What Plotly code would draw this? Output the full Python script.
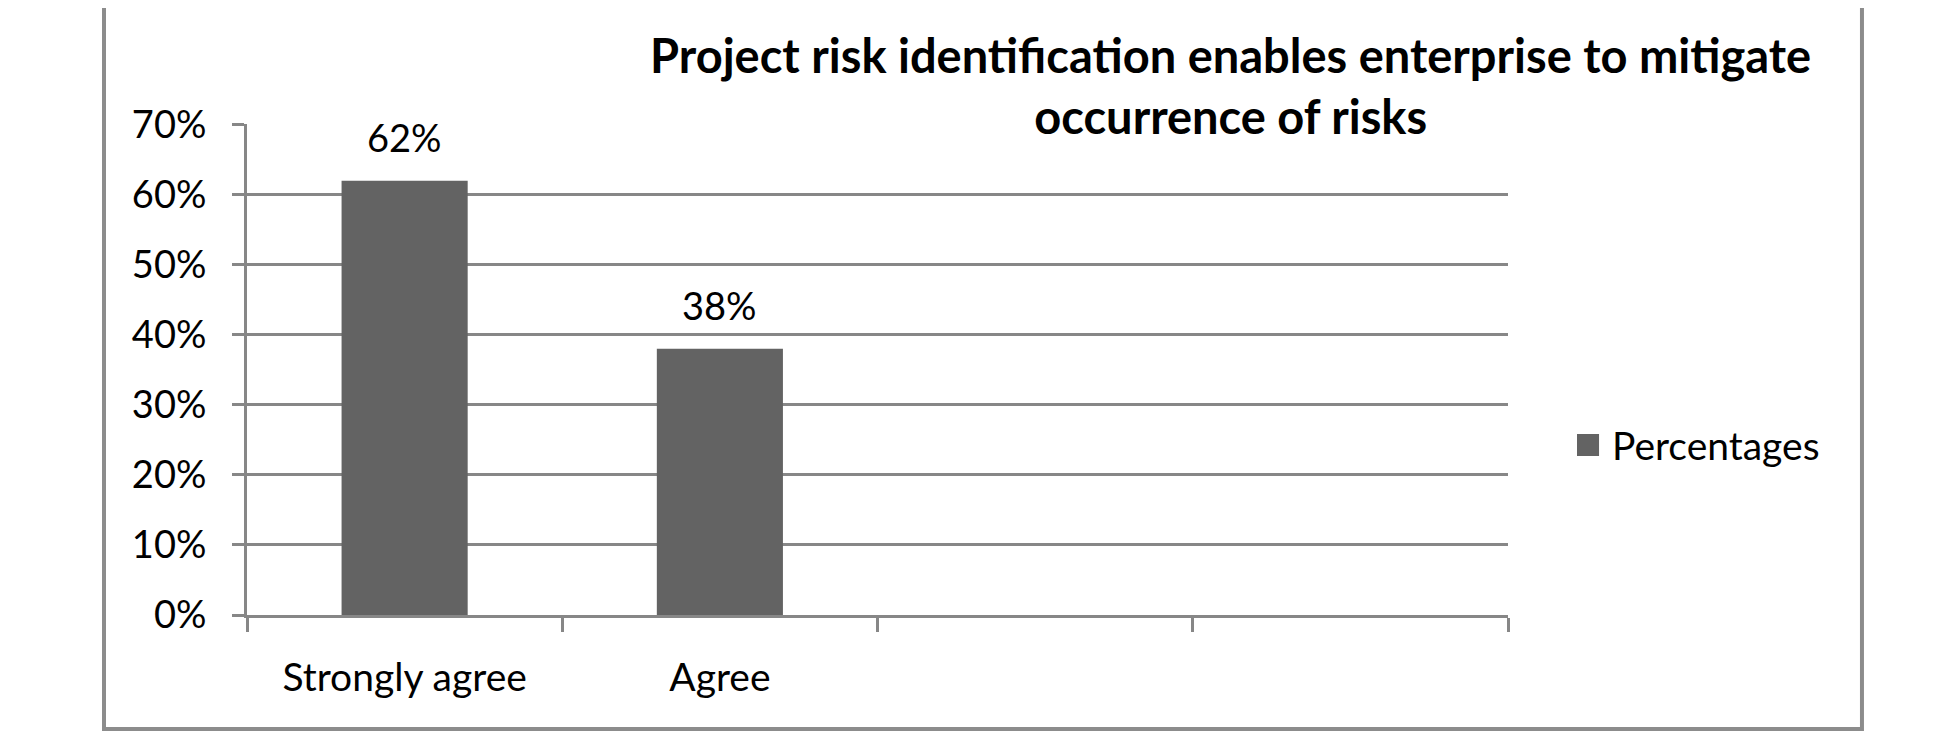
import plotly.graph_objects as go

# survey answers (two empty slots kept as in the original chart)
categories = ["Strongly agree", "Agree", " ", "  "]
percentages = [62, 38, None, None]
series_name = "Percentages"
title_text = "Project risk identification enables enterprise to mitigate<br>occurrence of risks"

grey = "#878787"
bar_colour = "#636363"

fig = go.Figure()
fig.add_trace(go.Bar(
    x=categories,
    y=percentages,
    name=series_name,
    marker=dict(color=bar_colour, line=dict(width=0)),
    showlegend=False,
))

# value labels above the bars
for c, v in zip(categories, percentages):
    if v is None:
        continue
    fig.add_annotation(
        x=c, y=v, text=f"{v}%", showarrow=False, yshift=44,
        font=dict(family="Lato", size=38, color="black"),
    )

# legend drawn by hand so the key square can be as large as the original
fig.add_shape(
    type="rect", xref="paper", yref="paper",
    x0=1.0547, x1=1.0722, y0=0.3238, y1=0.3686,
    fillcolor=bar_colour, line=dict(width=0),
)
fig.add_annotation(
    xref="paper", yref="paper", x=1.0809, y=0.3462,
    xanchor="left", yanchor="middle", showarrow=False,
    text=series_name, font=dict(family="Lato", size=39, color="black"),
)

# outer frame of the chart area
fig.add_shape(
    type="rect", xref="paper", yref="paper",
    x0=-0.1134, x1=1.2807, y0=-0.2322, y1=1.30,
    line=dict(color="#8c8c8c", width=4),
)

fig.update_layout(
    width=1950,
    height=749,
    margin=dict(l=239, r=450, t=116, b=142),
    paper_bgcolor="white",
    plot_bgcolor="white",
    bargap=0.6,
    font=dict(family="Lato", size=38, color="black"),
    title=dict(
        text=title_text,
        x=0.627, xanchor="center",
        y=0.913, yanchor="middle",
        font=dict(family="Lato", size=47, color="black", weight="bold"),
    ),
    xaxis=dict(
        type="category",
        showline=True, linecolor=grey, linewidth=3,
        ticks="outside", tickson="boundaries", ticklen=14,
        tickcolor=grey, tickwidth=3,
        ticklabelstandoff=26,
        showgrid=False,
        tickfont=dict(family="Lato", size=39),
    ),
    yaxis=dict(
        range=[0, 70.1], dtick=10, ticksuffix="%",
        showline=True, linecolor=grey, linewidth=3,
        ticks="outside", ticklen=12, tickcolor=grey, tickwidth=3,
        showgrid=True, gridcolor=grey, gridwidth=3,
        zeroline=False,
        ticklabelstandoff=18,
        tickfont=dict(family="Lato", size=38),
    ),
)

fig.write_html("out.html")
